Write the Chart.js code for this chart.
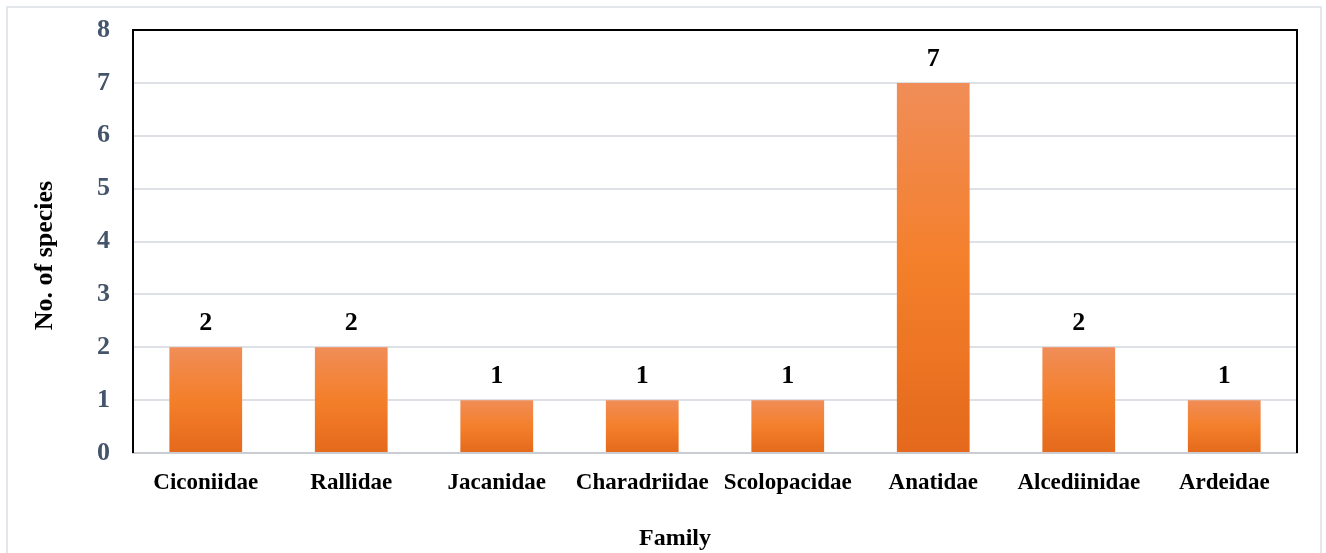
<!DOCTYPE html>
<html lang="en">
<head>
<meta charset="UTF-8">
<title>No. of species by family</title>
<script src="https://cdn.jsdelivr.net/npm/chart.js"></script>
<style>
    html, body { margin: 0; padding: 0; background: #fff; }
    .wrap { position: relative; width: 1326px; height: 553px; overflow: hidden; }
    .frame { position: absolute; left: 6px; top: 6px; width: 1312px; height: 600px; border: 2px solid #e3e7eb; }
    canvas { position: absolute; left: 0; top: 0; }
</style>
</head>
<body>
<div class="wrap">
    <div class="frame"></div>
    <canvas id="familyChart" width="1326" height="553"></canvas>
</div>
<script>
// families and species counts
const families = ['Ciconiidae', 'Rallidae', 'Jacanidae', 'Charadriidae', 'Scolopacidae', 'Anatidae', 'Alcediinidae', 'Ardeidae'];
const speciesCount = [2, 2, 1, 1, 1, 7, 2, 1];
const yTicks = [0, 1, 2, 3, 4, 5, 6, 7, 8];

const serif = '"Liberation Serif", "Times New Roman", serif';

// vertical gradient for each bar, from its top down to the zero line
function barGradient(context) {
    const chart = context.chart;
    const yScale = chart.scales.y;
    if (!yScale || !chart.chartArea) return '#f47e2a';
    const v = context.parsed ? context.parsed.y : context.raw;
    const top = yScale.getPixelForValue(v);
    const bottom = yScale.getPixelForValue(0);
    const g = chart.ctx.createLinearGradient(0, top, 0, bottom);
    g.addColorStop(0, '#f08d58');
    g.addColorStop(0.5, '#f47f2a');
    g.addColorStop(1, '#e4691c');
    return g;
}

// value labels above the bars
const valueLabels = {
    id: 'valueLabels',
    afterDatasetsDraw(chart) {
        const ctx = chart.ctx;
        const meta = chart.getDatasetMeta(0);
        ctx.save();
        ctx.font = 'bold 26px ' + serif;
        ctx.fillStyle = '#000';
        ctx.textAlign = 'center';
        ctx.textBaseline = 'middle';
        meta.data.forEach((bar, i) => {
            ctx.fillText(String(speciesCount[i]), bar.x, bar.y - 24);
        });
        ctx.restore();
    }
};

// black box on left, top and right of the plot area, plus the axis titles
const plotFrame = {
    id: 'plotFrame',
    afterDraw(chart) {
        const a = chart.chartArea;
        const ctx = chart.ctx;
        ctx.save();
        ctx.strokeStyle = '#000';
        ctx.lineWidth = 2;
        ctx.beginPath();
        ctx.moveTo(a.left, a.bottom);
        ctx.lineTo(a.left, a.top);
        ctx.lineTo(a.right, a.top);
        ctx.lineTo(a.right, a.bottom);
        ctx.stroke();

        ctx.fillStyle = '#000';
        ctx.textAlign = 'center';
        ctx.textBaseline = 'middle';
        ctx.font = 'bold 24px ' + serif;
        ctx.fillText('Family', (a.left + a.right) / 2 - 40, 539);

        ctx.font = 'bold 26px ' + serif;
        ctx.translate(45, (a.top + a.bottom) / 2 + 14);
        ctx.rotate(-Math.PI / 2);
        ctx.fillText('No. of species', 0, 0);
        ctx.restore();
    }
};

new Chart(document.getElementById('familyChart'), {
    type: 'bar',
    data: {
        labels: families,
        datasets: [{
            label: 'No. of species',
            data: speciesCount,
            backgroundColor: barGradient,
            borderWidth: 0,
            barPercentage: 0.5,
            categoryPercentage: 1.0
        }]
    },
    options: {
        responsive: false,
        animation: false,
        layout: { padding: { left: 0, right: 29, top: 30, bottom: 0 } },
        plugins: {
            legend: { display: false },
            tooltip: { enabled: false }
        },
        scales: {
            x: {
                grid: { display: false, drawTicks: false },
                border: { color: '#c9cdd2', width: 2 },
                ticks: {
                    color: '#000',
                    font: { family: serif, size: 23, weight: 'bold' },
                    padding: 16,
                    maxRotation: 0,
                    autoSkip: false
                },
                afterFit(scale) { scale.height = 100; }
            },
            y: {
                min: 0,
                max: 8,
                afterBuildTicks(scale) { scale.ticks = yTicks.map(v => ({ value: v })); },
                grid: {
                    color: '#dde1e6',
                    lineWidth: 2,
                    drawTicks: true,
                    tickLength: 23,
                    tickColor: 'rgba(0,0,0,0)'
                },
                border: { display: false },
                ticks: {
                    color: '#44546a',
                    font: { family: serif, size: 26, weight: 'bold' },
                    padding: 0
                },
                afterFit(scale) { scale.width = 133; }
            }
        }
    },
    plugins: [valueLabels, plotFrame]
});
</script>
</body>
</html>
